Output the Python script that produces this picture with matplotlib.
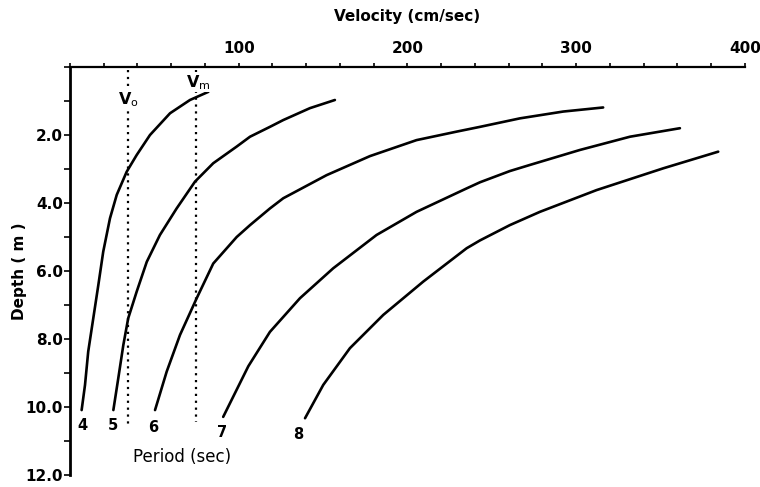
import matplotlib
matplotlib.use("Agg")
import matplotlib.pyplot as plt
import numpy as np

# velocity (cm/sec) vs depth (m), one curve per wave period
period = ["4", "5", "6", "7", "8"]

vel_4 = [82.0, 71.1, 59.3, 47.4, 39.5, 33.6, 27.7, 23.7, 19.7, 16.8, 13.8, 10.8, 8.9, 6.9]
dep_4 = [0.73, 0.97, 1.36, 2.00, 2.59, 3.08, 3.76, 4.45, 5.43, 6.41, 7.39, 8.37, 9.35, 10.09]

vel_5 = [157.0, 142.2, 126.4, 118.5, 106.7, 98.8, 84.9, 74.1, 63.2, 53.3, 45.5, 39.5, 34.5, 31.6, 28.6, 25.7]
dep_5 = [0.97, 1.21, 1.56, 1.76, 2.05, 2.34, 2.83, 3.37, 4.16, 4.94, 5.73, 6.61, 7.39, 8.18, 9.16, 10.09]

vel_6 = [316.0, 292.3, 266.7, 243.0, 229.2, 205.4, 177.8, 152.1, 126.4, 118.5, 106.7,
         98.8, 84.9, 75.1, 65.2, 57.3, 50.4]
dep_6 = [1.19, 1.31, 1.51, 1.76, 1.90, 2.15, 2.62, 3.18, 3.86, 4.16, 4.65,
         5.00, 5.78, 6.80, 7.88, 8.96, 10.09]

vel_7 = [361.5, 331.9, 302.2, 272.6, 260.7, 243.0, 235.1, 205.4, 181.7, 156.0, 136.3, 118.5,
         105.7, 90.8]
dep_7 = [1.80, 2.05, 2.44, 2.88, 3.06, 3.39, 3.57, 4.26, 4.94, 5.92, 6.80, 7.79,
         8.80, 10.29]

vel_8 = [384.2, 351.6, 312.1, 278.5, 260.7, 243.0, 235.1, 209.4, 185.7, 165.9, 150.1, 139.3]
dep_8 = [2.49, 2.98, 3.62, 4.26, 4.65, 5.10, 5.33, 6.31, 7.29, 8.27, 9.35, 10.33]

# label positions under each curve
label_vel = [7.1, 25.5, 49.2, 90.1, 135.1]
label_dep = [10.53, 10.53, 10.59, 10.74, 10.82]

v_o = 34.4
v_m = 74.7

curves = [(vel_4, dep_4), (vel_5, dep_5), (vel_6, dep_6), (vel_7, dep_7), (vel_8, dep_8)]

fig = plt.figure(figsize=(7.6, 4.87), dpi=100)
ax = fig.add_axes([0.0921, 0.0246, 0.888, 0.8378])

for v, d in curves:
    ax.plot(v, d, color="black", lw=1.9, solid_joinstyle="round", solid_capstyle="round")

for i in range(len(period)):
    ax.text(label_vel[i], label_dep[i], period[i], ha="center", va="center",
            fontsize=10.5, fontweight="bold")

ax.plot([v_o, v_o], [0.1, 10.5], color="black", lw=1.6, linestyle=(0, (1, 2.1)))
ax.plot([v_m, v_m], [0.1, 10.45], color="black", lw=1.6, linestyle=(0, (1, 2.1)))
ax.text(v_o, 0.97, r"V$_\mathrm{o}$", ha="center", va="center", fontsize=11.5,
        fontweight="bold", bbox=dict(facecolor="white", edgecolor="none", pad=0.5))
ax.text(v_m + 1.5, 0.45, r"V$_\mathrm{m}$", ha="center", va="center", fontsize=11.5,
        fontweight="bold", bbox=dict(facecolor="white", edgecolor="none", pad=0.5))

ax.text(66.3, 11.47, "Period (sec)", ha="center", va="center", fontsize=12)

ax.set_xlim(0, 400)
ax.set_ylim(12, 0)

ax.xaxis.set_ticks_position("top")
ax.xaxis.set_label_position("top")
ax.set_xticks([100, 200, 300, 400])
ax.set_xticks(np.arange(0, 401, 20), minor=True)
ax.set_yticks([2, 4, 6, 8, 10, 12])
ax.set_yticks(np.arange(0, 13, 1), minor=True)
ax.set_yticklabels(["2.0", "4.0", "6.0", "8.0", "10.0", "12.0"])

for lab in ax.get_xticklabels() + ax.get_yticklabels():
    lab.set_fontweight("bold")
    lab.set_fontsize(11)

ax.tick_params(axis="x", which="both", direction="out", length=3, width=1.2, pad=5)
ax.tick_params(axis="y", which="both", direction="out", length=4, width=1.2, pad=1)

ax.spines["right"].set_visible(False)
ax.spines["bottom"].set_visible(False)
ax.spines["left"].set_linewidth(2.0)
ax.spines["top"].set_linewidth(1.6)

ax.set_xlabel("Velocity (cm/sec)", fontsize=11, fontweight="bold", labelpad=14)
ax.set_ylabel("Depth ( m )", fontsize=11, fontweight="bold", labelpad=-1)

fig.savefig("out.png", dpi=100)
